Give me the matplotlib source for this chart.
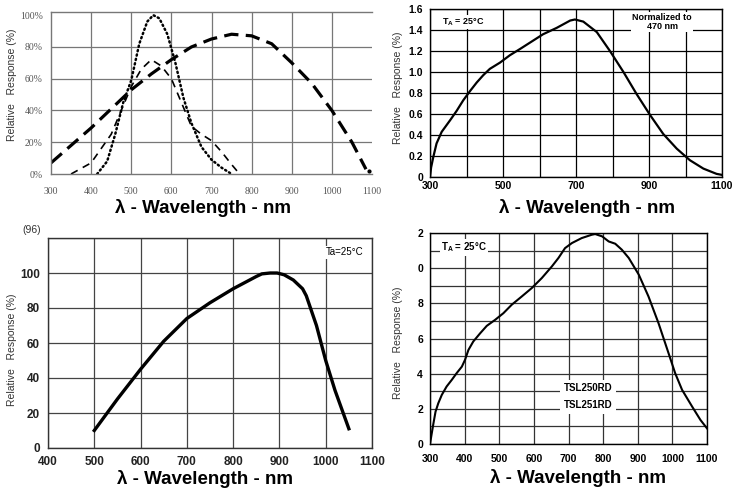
"""Four spectral response curves, relative response vs wavelength
"""
import numpy as np
import matplotlib as mpl
import matplotlib.pyplot as plt

# data

# top left: three detector curves (percent)
wide_nm = [300, 350, 400, 450, 500, 550, 600, 650, 700, 750, 800, 850, 900, 950, 1000, 1050, 1085]
wide_pct = [7, 18, 29, 41, 53, 63, 72, 80, 85, 88, 87, 82, 70, 57, 40, 20, 3]
mid_nm = [350, 400, 450, 500, 525, 550, 575, 600, 625, 650, 675, 700, 725, 750, 770]
mid_pct = [0, 7, 25, 55, 66, 72, 68, 60, 45, 30, 25, 21, 14, 6, 0]
eye_nm = [415, 440, 460, 480, 500, 520, 540, 555, 570, 590, 610, 630, 650, 675, 700, 725, 750]
eye_pct = [0, 8, 25, 45, 59, 82, 96, 100, 98, 88, 70, 48, 32, 17, 9, 4, 0]

# top right: normalized to 470 nm
norm_nm = [300, 303, 309, 318, 332, 355, 373, 391, 410, 428, 446, 464, 492, 519, 547,
           574, 610, 647, 684, 697, 720, 757, 793, 830, 866, 903, 939, 976, 1012,
           1049, 1085, 1100]
norm_resp = [0, 0.09, 0.19, 0.32, 0.43, 0.54, 0.63, 0.73, 0.82, 0.90, 0.97, 1.03, 1.09,
             1.16, 1.22, 1.28, 1.36, 1.42, 1.49, 1.50, 1.48, 1.38, 1.20, 1.00, 0.79, 0.59,
             0.41, 0.27, 0.16, 0.08, 0.03, 0.02]

# bottom left: Ta=25C
ir_nm = [500, 550, 600, 650, 700, 750, 800, 850, 862, 880, 895, 910, 930, 950, 958,
         980, 1000, 1020, 1050]
ir_pct = [10, 28, 45, 61, 74, 83, 91, 98, 99.5, 100, 100, 99, 96, 91, 87,
          70, 50, 33, 11]

# bottom right: TSL250RD / TSL251RD
tsl_nm = [300, 305, 310, 316, 324, 334, 348, 363, 377, 392, 401, 411, 425, 445, 464,
          488, 512, 536, 565, 594, 623, 652, 671, 690, 710, 738, 767, 777, 797, 816,
          835, 854, 874, 903, 931, 960, 989, 1008, 1028, 1057, 1081, 1100]
tsl_resp = [0, 0.6, 1.18, 1.84, 2.32, 2.79, 3.27, 3.65, 4.03, 4.4, 4.78, 5.35, 5.83, 6.3,
            6.72, 7.06, 7.44, 7.92, 8.39, 8.87, 9.44, 10.1, 10.58, 11.14, 11.43, 11.71,
            11.9, 11.94, 11.81, 11.52, 11.39, 11.05, 10.58, 9.63, 8.39, 6.87, 5.16, 4.03,
            3.08, 2.13, 1.37, 0.89]
tsl_ticks = [0, 2, 4, 6, 8, 10, 12]
tsl_tick_labels = ["0", "2", "4", "6", "8", "0", "2"]

# configuration
W, H = 737, 493
mpl.rcParams['figure.figsize'] = (W / 100, H / 100)
mpl.rcParams['figure.dpi'] = 100
plt.rc('font', family=['Liberation Sans', 'DejaVu Sans'])

XLABEL = "λ - Wavelength - nm"
YLABEL = "Relative   Response (%)"


def px_rect(left, top, right, bottom):
    return [left / W, 1 - bottom / H, (right - left) / W, (bottom - top) / H]


def fig_text(fig, x, y, s, **kw):
    fig.text(x / W, 1 - y / H, s, **kw)


def style_axes(ax, grid_color, xpad, ypad, tick_font):
    ax.tick_params(length=0, pad=0)
    ax.tick_params(axis='x', pad=xpad)
    ax.tick_params(axis='y', pad=ypad)
    for lab in ax.get_xticklabels() + ax.get_yticklabels():
        lab.set(**tick_font)
    for sp in ax.spines.values():
        sp.set_color(grid_color)
        sp.set_linewidth(1.0)


fig = plt.figure()

# top left
ax1 = fig.add_axes(px_rect(51, 12, 372, 174))
ax1.plot(wide_nm, wide_pct, color='black', lw=2.3, dashes=(4.5, 2.3))
ax1.plot(mid_nm, mid_pct, color='black', lw=1.2, dashes=(4.5, 3.5))
ax1.plot(eye_nm, eye_pct, color='black', lw=1.8, dashes=(0.5, 1.3), dash_capstyle='round')
ax1.plot([1092], [2], marker='o', ms=2, color='black')
ax1.set_xlim(300, 1100)
ax1.set_ylim(0, 102)
ax1.set_xticks(np.arange(300, 1101, 100))
ax1.set_yticks(np.arange(0, 101, 20))
ax1.set_yticklabels([f"{v}%" for v in range(0, 101, 20)])
for v in range(20, 81, 20):
    ax1.axhline(v, color='#777777', lw=0.9, zorder=0)
for v in range(400, 1100, 100):
    ax1.axvline(v, color='#777777', lw=0.9, zorder=0)
ax1.spines['right'].set_visible(False)
style_axes(ax1, '#777777', 9, 6,
           dict(family=['Liberation Serif', 'DejaVu Serif'], fontsize=7, color='#555555'))

# top right
ax2 = fig.add_axes(px_rect(430, 9, 722, 177))
ax2.plot(norm_nm, norm_resp, color='black', lw=1.6)
ax2.set_xlim(300, 1100)
ax2.set_ylim(0, 1.6)
ax2.set_xticks(np.arange(300, 1101, 200))
ax2.set_xticks(np.arange(300, 1101, 100), minor=True)
ax2.set_yticks(np.arange(0, 1.61, 0.2))
ax2.set_yticklabels(["0"] + [f"{v:.1f}" for v in np.arange(0.2, 1.61, 0.2)])
ax2.grid(True, which='both', color='black', lw=0.9)
ax2.tick_params(which='minor', length=0)
style_axes(ax2, 'black', 3, 5, dict(fontsize=7.5, fontweight='bold'))
ax2.text(0.04, 0.955, "T$_\\mathregular{A}$ = 25°C", transform=ax2.transAxes,
         fontsize=6.5, fontweight='bold', va='top', ha='left',
         bbox=dict(facecolor='white', edgecolor='none', pad=1))
ax2.text(0.795, 0.975, "Normalized to\n470 nm", transform=ax2.transAxes,
         fontsize=6.5, fontweight='bold', va='top', ha='center', linespacing=0.95,
         bbox=dict(facecolor='white', edgecolor='none', pad=1))

# bottom left
ax3 = fig.add_axes(px_rect(48, 238, 372, 448))
ax3.plot(ir_nm, ir_pct, color='black', lw=2.4, solid_joinstyle='round')
ax3.set_xlim(400, 1100)
ax3.set_ylim(0, 120)
ax3.set_xticks(np.arange(400, 1101, 100))
ax3.set_yticks(np.arange(0, 101, 20))
ax3.set_yticks([120], minor=True)
ax3.grid(True, which='both', color='#444444', lw=0.9)
ax3.tick_params(which='minor', length=0)
style_axes(ax3, '#333333', 5.5, 6, dict(fontsize=8.5, fontweight='bold', color='#222222'))
ax3.text(0.975, 0.955, "Ta=25°C", transform=ax3.transAxes,
         fontsize=7, va='top', ha='right',
         bbox=dict(facecolor='white', edgecolor='none', pad=1))
fig_text(fig, 22, 230, "(96)", fontsize=7.5, color='#333333', va='center', ha='left')

# bottom right
ax4 = fig.add_axes(px_rect(430, 233, 707, 444))
ax4.plot(tsl_nm, tsl_resp, color='black', lw=1.5)
ax4.set_xlim(300, 1100)
ax4.set_ylim(0, 12)
ax4.set_xticks(np.arange(300, 1101, 100))
ax4.set_yticks(tsl_ticks)
ax4.set_yticklabels(tsl_tick_labels)
ax4.set_yticks(np.arange(0, 13, 1), minor=True)
ax4.grid(True, which='both', color='#333333', lw=0.9)
ax4.tick_params(which='minor', length=0)
style_axes(ax4, 'black', 7, 5, dict(fontsize=7.5, fontweight='bold'))
ax4.text(0.04, 0.965, "T$_\\mathregular{A}$ = 25°C", transform=ax4.transAxes,
         fontsize=7, fontweight='bold', va='top', ha='left',
         bbox=dict(facecolor='white', edgecolor='none', pad=1))
for y, s in ((388, "TSL250RD"), (405, "TSL251RD")):
    fig_text(fig, 588, y, s, fontsize=7, fontweight='bold', ha='center', va='center',
             bbox=dict(facecolor='white', edgecolor='none', pad=2.5))

# axis titles
for x, y in ((203, 208), (587, 208), (205, 479), (578, 478)):
    fig_text(fig, x, y, XLABEL, fontsize=13.5, fontweight='bold', ha='center', va='center')
for x, y in ((12, 85), (398, 88), (12, 350), (398, 343)):
    fig_text(fig, x, y, YLABEL, fontsize=7.5, color='#333333', rotation=90,
             ha='center', va='center')

fig.savefig("out.png", dpi=100, facecolor='white')
